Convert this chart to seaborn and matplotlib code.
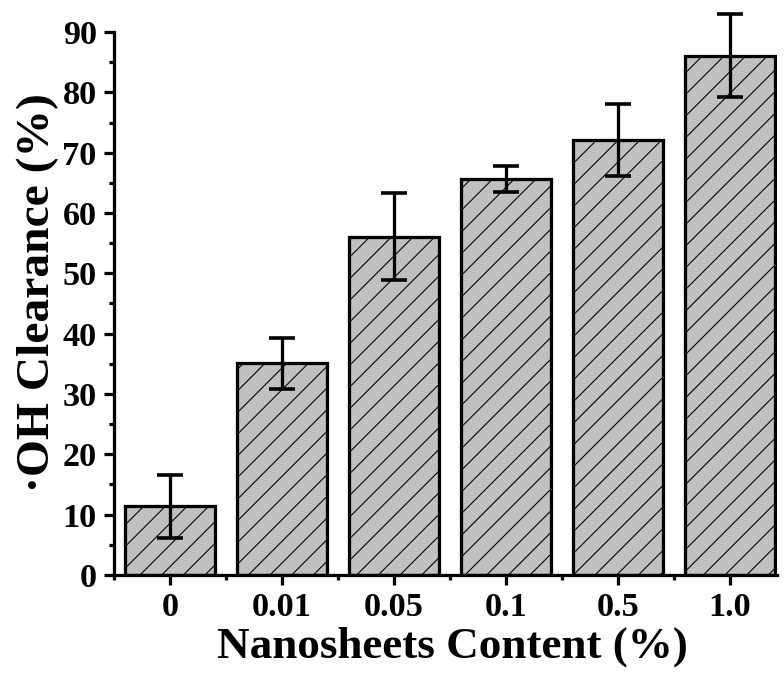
import matplotlib
matplotlib.use("Agg")
import matplotlib.pyplot as plt
from matplotlib.ticker import MultipleLocator, FixedLocator
import seaborn as sns
import pandas as pd

categories = ["0", "0.01", "0.05", "0.1", "0.5", "1.0"]
clearance = [11.4, 35.1, 56.1, 65.6, 72.1, 86.1]
errors = [5.2, 4.2, 7.2, 2.2, 6.0, 6.9]

sns.set_style("ticks")
plt.rcParams['font.family'] = ['Liberation Serif', 'DejaVu Serif']
plt.rcParams['font.weight'] = 'bold'
plt.rcParams['hatch.linewidth'] = 0.6
plt.rcParams['hatch.color'] = 'black'
for k in ['text.color', 'axes.labelcolor', 'xtick.color', 'ytick.color', 'axes.edgecolor']:
    plt.rcParams[k] = 'black'

DPI = 130
fig = plt.figure(figsize=(784 / DPI, 677 / DPI), dpi=DPI)
ax = fig.add_axes([0.1454, 0.1507, 0.991 - 0.1454, 0.9527 - 0.1507])

df = pd.DataFrame({"content": categories, "clearance": clearance})
sns.barplot(data=df, x="content", y="clearance", order=categories,
            color="#c0c0c0", saturation=1, edgecolor="black", linewidth=1.8,
            width=0.8, errorbar=None, ax=ax, zorder=2)
for p in ax.patches:
    p.set_hatch("//")

ax.errorbar(range(len(categories)), clearance, yerr=errors, fmt="none",
            ecolor="black", elinewidth=1.8, capsize=7, capthick=2.0,
            zorder=5, clip_on=False)

ax.set_xlim(-0.5, 5.42)
ax.set_ylim(0, 90)
ax.yaxis.set_major_locator(MultipleLocator(10))
ax.yaxis.set_minor_locator(MultipleLocator(5))
ax.xaxis.set_minor_locator(FixedLocator([-0.5, 0.5, 1.5, 2.5, 3.5, 4.5]))

for s in ["top", "right"]:
    ax.spines[s].set_visible(False)
for s in ["left", "bottom"]:
    ax.spines[s].set_linewidth(1.8)
    ax.spines[s].set_color("black")

ax.tick_params(axis="both", which="major", length=5.5, width=1.8,
               labelsize=19, direction="out", pad=4, colors="black")
ax.tick_params(axis="both", which="minor", length=2.8, width=1.8,
               direction="out", colors="black")
for lab in ax.get_xticklabels() + ax.get_yticklabels():
    lab.set_fontweight("bold")

ax.set_xlabel("Nanosheets Content (%)", fontsize=25, fontweight="bold",
              labelpad=2, color="black")
ax.set_ylabel("\u00b7OH Clearance (%)", fontsize=26.3, fontweight="bold",
              labelpad=2, color="black")
ax.xaxis.label.set_x(0.511)
ax.yaxis.label.set_y(0.521)

fig.savefig("out.png", dpi=DPI)
